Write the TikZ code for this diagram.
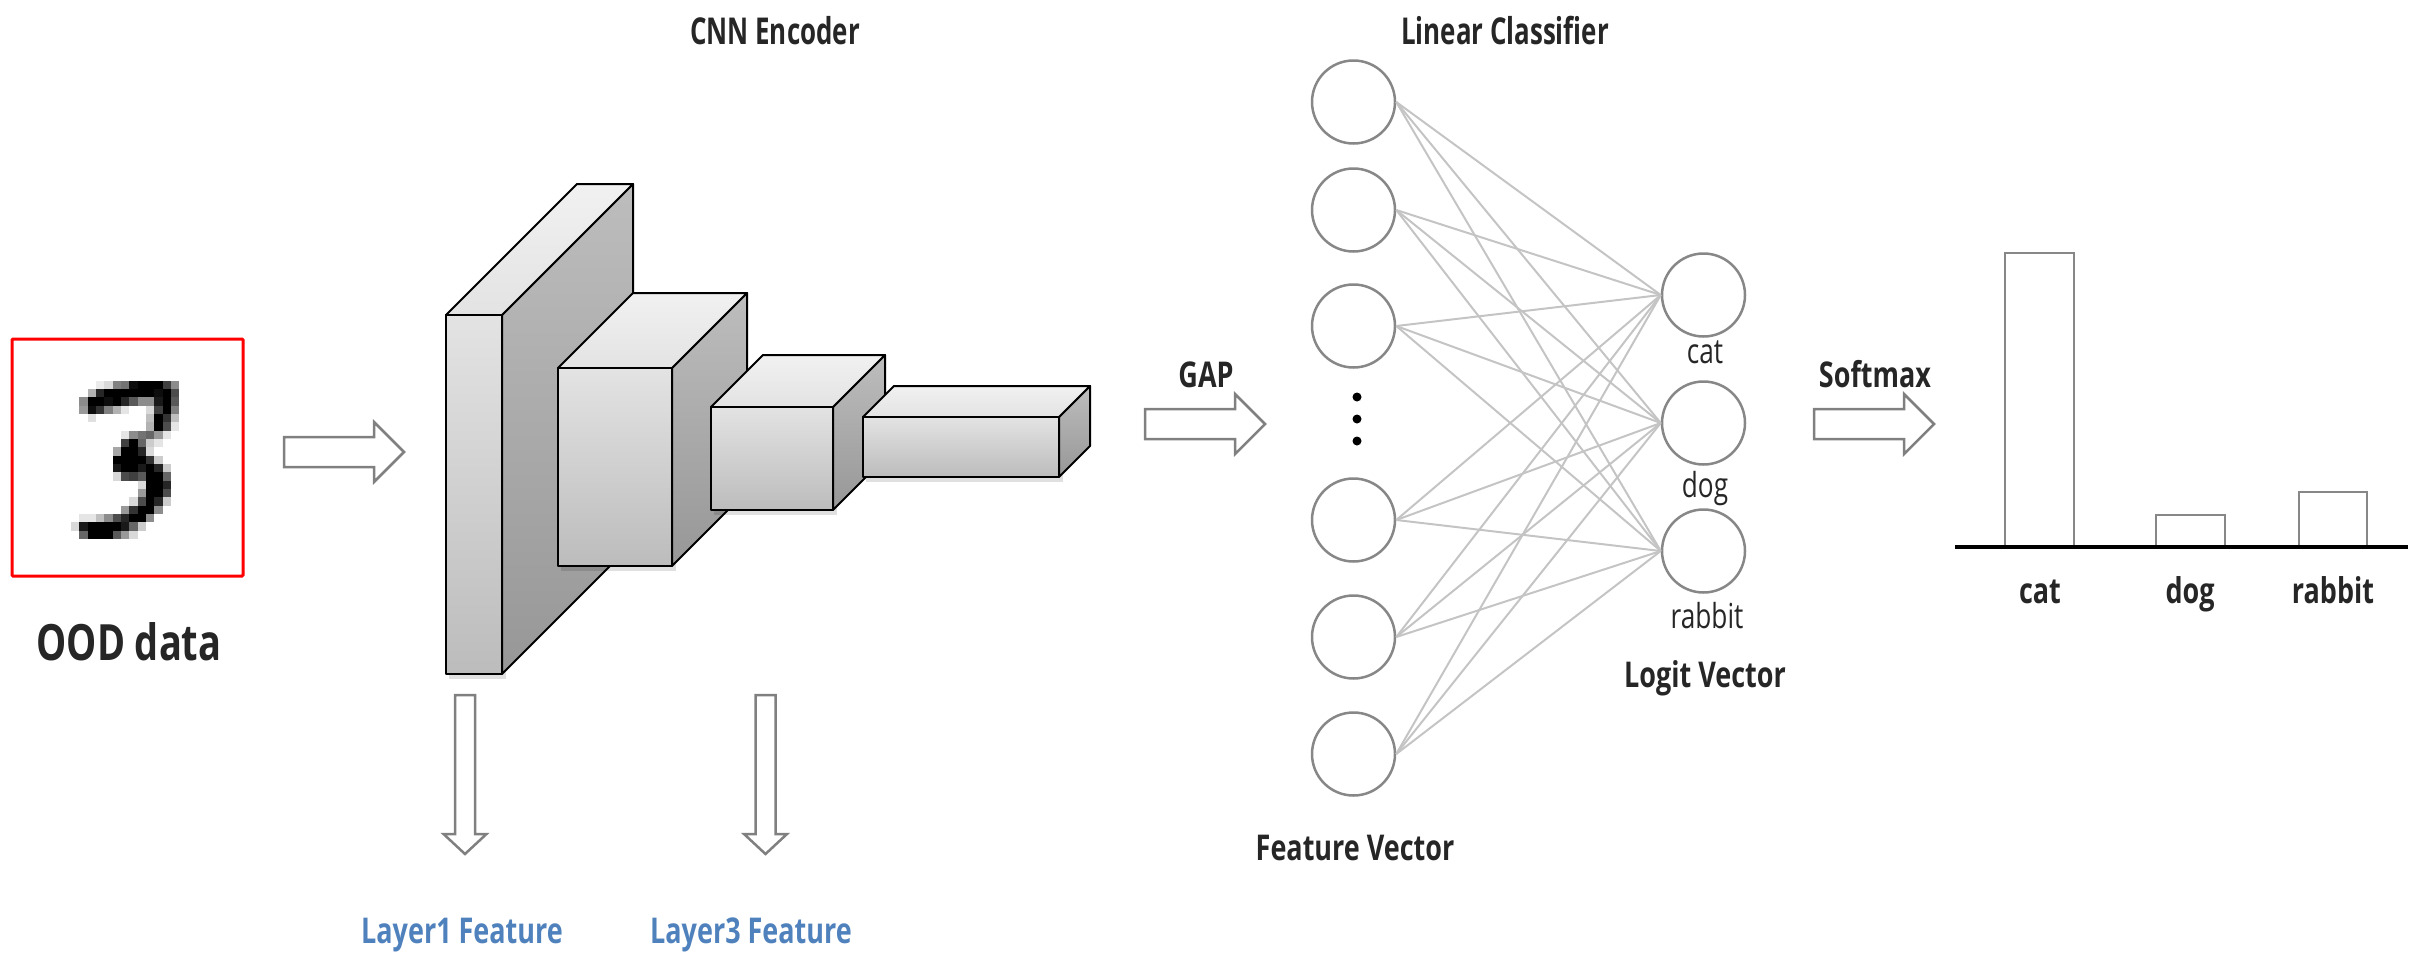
\documentclass[tikz,border=0pt]{standalone}
\usepackage{fontspec}
\setmainfont{Open Sans}[FakeStretch=0.76]
\newfontfamily\headfont{Open Sans}[FakeStretch=0.70]
\definecolor{ink}{HTML}{262626}
\definecolor{arrowgray}{HTML}{808080}
\definecolor{nodegray}{HTML}{878787}
\definecolor{edgegray}{HTML}{C4C4C4}
\definecolor{layerblue}{HTML}{4F81BD}
\definecolor{frontTop}{HTML}{E3E3E3}
\definecolor{frontBot}{HTML}{BCBCBC}
\definecolor{sideTop}{HTML}{BDBDBD}
\definecolor{sideBot}{HTML}{979797}
\definecolor{lidBack}{HTML}{F1F1F1}
\definecolor{lidFront}{HTML}{E3E3E3}

% one layer block: front face (#1,#2)-(#3,#4), receding by #5 up and to the right
\newcommand\layerblock[5]{%
  \fill[black,opacity=0.12] (#1+3,#2+4) rectangle (#3+4,#4+5);
  \filldraw[blockline,top color=sideTop,bottom color=sideBot]
    (#3,#2) -- ++(#5,-#5) -- ++(0,#4-#2) -- (#3,#4) -- cycle;
  \filldraw[blockline,top color=lidBack,bottom color=lidFront]
    (#1,#2) -- ++(#5,-#5) -- ++(#3-#1,0) -- (#3,#2) -- cycle;
  \filldraw[blockline,top color=frontTop,bottom color=frontBot]
    (#1,#2) rectangle (#3,#4);
}
% hollow block arrow pointing right, tail at (#1,#2)
\newcommand\rightblockarrow[2]{%
  \draw[hollowarrow] (#1,#2-15) -- ++(90,0) -- ++(0,-15) -- ++(30,30)
    -- ++(-30,30) -- ++(0,-15) -- ++(-90,0) -- cycle;
}
% hollow block arrow pointing down, tail centre at (#1,#2)
\newcommand\downblockarrow[2]{%
  \draw[hollowarrow] (#1-10,#2) -- ++(0,139) -- ++(-11.5,0) -- ++(21.5,20)
    -- ++(21.5,-20) -- ++(-11.5,0) -- ++(0,-139) -- cycle;
}

\begin{document}
\begin{tikzpicture}[x=1pt,y=-1pt,
  blockline/.style={draw=black,line width=2pt,line join=round},
  hollowarrow/.style={draw=arrowgray,line width=2.5pt,fill=white,line join=miter},
  neuron/.style={circle,draw=nodegray,line width=2.5pt,minimum size=83pt,inner sep=0pt,fill=white},
  edge/.style={draw=edgegray,line width=2pt},
  bar/.style={draw=nodegray,line width=2.5pt},
  title/.style={text=ink,font=\headfont\fontsize{37}{40}\selectfont\bfseries,anchor=base,inner sep=0pt},
  bigtitle/.style={text=ink,font=\fontsize{50}{54}\selectfont\bfseries,anchor=base,inner sep=0pt},
  boldlabel/.style={text=ink,font=\fontsize{35.5}{38}\selectfont\bfseries,anchor=base,inner sep=0pt},
  thinlabel/.style={text=ink,font=\fontsize{34.5}{38}\selectfont,anchor=base,inner sep=0pt},
  bluelabel/.style={text=layerblue,font=\fontsize{35.5}{38}\selectfont\bfseries,anchor=base,inner sep=0pt},
  dot/.style={circle,fill=black,inner sep=0pt,minimum size=9pt}
]
\useasboundingbox (0,0) rectangle (2415,956);

% ---------------- input image ----------------
\foreach \c/\r/\g in {
  2/0/8,3/0/15,4/0/50,5/0/55,6/0/95,7/0/100,8/0/100,9/0/100,10/0/75,11/0/45,
  1/1/30,2/1/85,3/1/100,4/1/100,5/1/100,6/1/100,7/1/100,8/1/100,9/1/95,10/1/100,11/1/70,
  0/2/45,1/2/100,2/2/100,3/2/95,4/2/100,5/2/85,6/2/65,7/2/45,8/2/45,9/2/90,10/2/100,11/2/65,
  0/3/40,1/3/95,2/3/80,3/3/50,4/3/30,5/3/10,8/3/15,9/3/75,10/3/100,11/3/50,
  1/4/12,8/4/25,9/4/100,10/4/80,11/4/25,
  8/5/30,9/5/100,10/5/70,11/5/10,
  5/6/10,6/6/45,7/6/55,8/6/60,9/6/40,10/6/10,
  5/7/75,6/7/100,7/7/60,8/7/20,9/7/10,
  4/8/35,5/8/100,6/8/100,7/8/85,8/8/15,
  4/9/100,5/9/100,6/9/100,7/9/100,8/9/80,9/9/20,
  4/10/90,5/10/100,6/10/100,7/10/90,8/10/100,9/10/85,10/10/20,
  4/11/15,5/11/70,6/11/75,7/11/65,8/11/100,9/11/100,10/11/60,
  7/12/15,8/12/100,9/12/100,10/12/85,
  7/13/40,8/13/100,9/13/100,10/13/70,
  6/14/15,7/14/70,8/14/100,9/14/85,10/14/20,
  5/15/40,6/15/80,7/15/100,8/15/100,9/15/45,
  0/16/10,1/16/10,2/16/25,3/16/45,4/16/70,5/16/85,6/16/100,7/16/100,8/16/45,
  -1/17/15,0/17/90,1/17/100,2/17/100,3/17/100,4/17/100,5/17/90,6/17/60,7/17/20,
  0/18/60,1/18/100,2/18/100,3/18/100,4/18/65,5/18/40,6/18/15}
  \fill[black!\g] ({79.3+\c*8.33},{380.7+\r*8.33}) rectangle ++(8.45,8.45);
\draw[red,line width=3pt,rounded corners=1pt] (12,339) rectangle (243,576);
\node[bigtitle] (ood) at (129,660) {OOD data};

\rightblockarrow{284}{452}

% ---------------- CNN encoder ----------------
\node[title] (cnn) at (775,44) {CNN Encoder};
\layerblock{446}{315}{502}{674}{131}
\layerblock{558}{368}{672}{566}{75}
\layerblock{711}{407}{833}{510}{52}
\layerblock{863}{417}{1059}{477}{31}

\downblockarrow{465}{695}
\downblockarrow{765.5}{695}
\node[bluelabel] (l1feat) at (462,943) {Layer1 Feature};
\node[bluelabel] (l3feat) at (751,943) {Layer3 Feature};

% ---------------- global average pooling ----------------
\rightblockarrow{1145}{424}
\node[boldlabel] (gap) at (1206,387) {GAP};

% ---------------- linear classifier ----------------
\node[title] (lin) at (1505,44) {Linear Classifier};
\foreach \i/\y in {1/102,2/210,3/326,4/520,5/637,6/754}
  \coordinate (fc\i) at (1353.5,\y);
\foreach \j/\y in {1/295,2/423,3/551}
  \coordinate (lc\j) at (1703.5,\y);
\foreach \i in {1,...,6}
  \node[neuron] (f\i) at (fc\i) {};
\foreach \j in {1,2,3}
  \node[neuron] (o\j) at (lc\j) {};
\foreach \i in {1,...,6}
  \foreach \j in {1,2,3}
    \draw[edge] (f\i.east) -- (o\j.west);
\node[dot] (d1) at (1357,397) {};
\node[dot] (d2) at (1357,419) {};
\node[dot] (d3) at (1357,441) {};
\node[thinlabel] (lcat) at (1705,363) {cat};
\node[thinlabel] (ldog) at (1705,497) {dog};
\node[thinlabel] (lrab) at (1707,628) {rabbit};
\node[boldlabel] (logit) at (1705,687) {Logit Vector};
\node[boldlabel] (feat) at (1355,860) {Feature Vector};

% ---------------- softmax output ----------------
\rightblockarrow{1814}{424}
\node[boldlabel] (soft) at (1875,387) {Softmax};
\draw[bar] (2005,547) -- (2005,253) -- (2074,253) -- (2074,547);
\draw[bar] (2156,547) -- (2156,515) -- (2225,515) -- (2225,547);
\draw[bar] (2299,547) -- (2299,492) -- (2367,492) -- (2367,547);
\coordinate (axl) at (1955,547);
\coordinate (axr) at (2408,547);
\draw[black,line width=4pt] (axl) -- (axr);
\node[boldlabel] (bcat) at (2040,603) {cat};
\node[boldlabel] (bdog) at (2190,603) {dog};
\node[boldlabel] (brab) at (2333,603) {rabbit};
\end{tikzpicture}
\end{document}
